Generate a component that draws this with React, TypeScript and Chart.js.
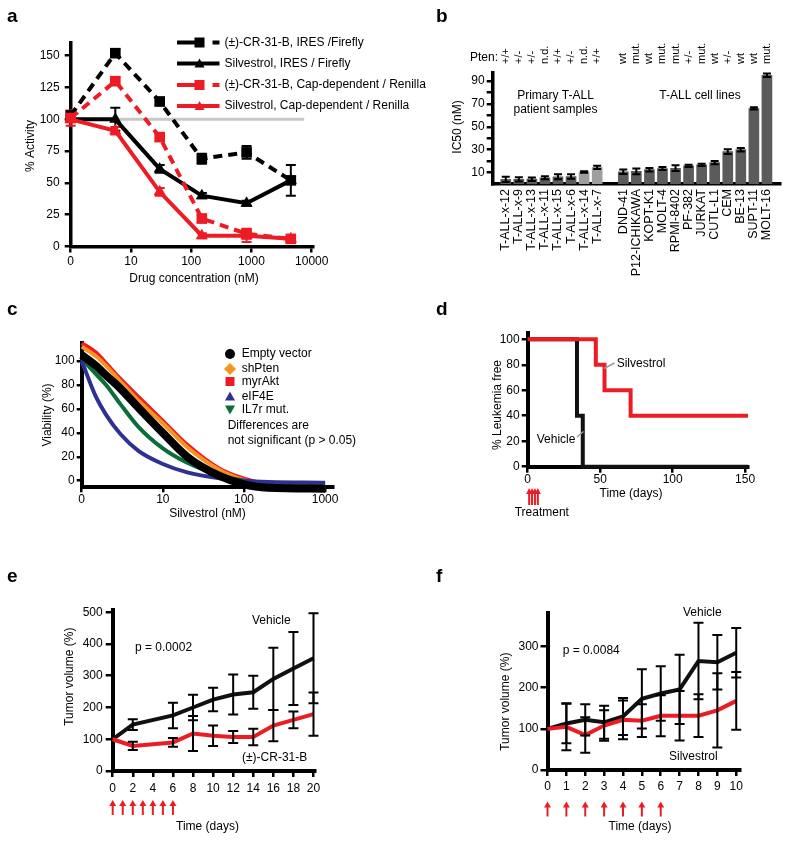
import React, { useEffect, useRef } from 'react';
import { Chart, registerables } from 'chart.js';

Chart.register(...registerables);

const FONT = '"Liberation Sans", Arial, Helvetica, sans-serif';
const PAGE_W = 800;
const PAGE_H = 844;
const RED = '#ed1c24';
const BLACK = '#000000';

/* ---------- Panel a: reporter activity ---------- */
const concA = [1, 5.5, 30, 150, 830, 4500]; // nM; 1 = untreated control, shown at the "0" tick
const crIresA = [103, 152, 114, 69, 74, 52];
const crIresErrA = [0, 3, 3, 4, 5, 12];
const silIresA = [100, 100, 61, 40, 34, 52];
const silIresErrA = [0, 9, 3, 2, 2, 0];
const crCapA = [101, 130, 86, 22, 10, 6];
const crCapErrA = [6, 3, 3, 3, 4, 1];
const silCapA = [100, 91, 43, 8.5, 8.5, 6];
const silCapErrA = [0, 3, 3, 2, 5, 1];
const refXA = [1, 7500];
const refYA = [100, 100];
const xTicksA = [1, 10, 100, 1000, 10000];
const xTickLabelsA = ['0', '10', '100', '1000', '10000'];
const yTicksA = [0, 25, 50, 75, 100, 125, 150];
const legendA = [
  '(±)-CR-31-B, IRES /Firefly',
  'Silvestrol, IRES / Firefly',
  '(±)-CR-31-B, Cap-dependent / Renilla',
  'Silvestrol, Cap-dependent / Renilla',
];

/* ---------- Panel b: IC50 ---------- */
const primaryLabelsB = ['T-ALL-x-12', 'T-ALL-x-9', 'T-ALL-x-13', 'T-ALL-x-11', 'T-ALL-x-15', 'T-ALL-x-6', 'T-ALL-x-14', 'T-ALL-x-7'];
const primaryIC50B = [4, 4, 4.2, 5.5, 6.3, 6.5, 10.5, 14.5];
const primaryErrB = [2.3, 1.8, 1.5, 1.3, 2.2, 2, 0.7, 1.5];
const primaryShadeB = ['dark', 'dark', 'dark', 'dark', 'dark', 'dark', 'light', 'light'];
const ptenPrimaryB = ['+/+', '+/-', '+/-', 'n.d.', '+/+', '+/-', 'n.d.', '+/+'];
const cellLabelsB = ['DND-41', 'P12-ICHIKAWA', 'KOPT-K1', 'MOLT-4', 'RPMI-8402', 'PF-382', 'JURKAT', 'CUTL-L1', 'CEM', 'BE-13', 'SUPT-11', 'MOLT-16'];
const cellIC50B = [10.7, 11, 12.5, 13.5, 13.8, 15.8, 16.7, 18.7, 28.3, 30, 66, 95];
const cellErrB = [2, 2.5, 1.5, 1.3, 2.5, 1, 1, 1.5, 2, 1.5, 1, 1.5];
const ptenCellB = ['wt', 'mut.', 'wt', 'mut.', 'mut.', '+/-', 'mut.', 'wt', '+/-', 'wt', 'wt', 'mut.'];
const yTicksB = [10, 20, 30, 40, 50, 60, 70, 80, 90];
const yTickLabelsB = ['10', '', '30', '', '50', '', '70', '', '90'];

/* ---------- Panel c: viability curves ---------- */
const concC = [1, 1.5, 2, 3, 5, 10, 20, 50, 100, 200, 1000];
const emptyC = [105, 96, 88, 77, 61, 40, 20, 4, -3, -5.8, -6.7];
const shPtenC = [112, 104, 96, 83, 67, 48, 28, 9, 0.5, -4, -6.4];
const myrAktC = [115, 107, 98, 85, 70, 50, 30, 10, 1.7, -3, -5.8];
const eif4eC = [100, 70, 55, 39, 25, 14, 7, 2, 0, -1, -1.7];
const il7rC = [102, 89, 80, 64, 45, 27, 15, 4.7, 0, -1.7, -3];
const xTicksC = [1, 10, 100, 1000];
const xTickLabelsC = ['0', '10', '100', '1000'];
const yTicksC = [0, 20, 40, 60, 80, 100];
const legendC = ['Empty vector', 'shPten', 'myrAkt', 'eIF4E', 'IL7r mut.'];

/* ---------- Panel d: leukemia-free survival ---------- */
const vehicleTimesD = [0, 34, 38, 152];
const vehicleSurvD = [100, 40, 0, 0];
const silvTimesD = [0, 47, 53, 71, 152];
const silvSurvD = [100, 80, 60, 40, 40];
const treatDaysD = [1, 3, 5, 7];
const xTicksD = [0, 50, 100, 150];
const yTicksD = [0, 20, 40, 60, 80, 100];

/* ---------- Panel e: tumor volume, CR-31-B ---------- */
const daysE = [0, 2, 6, 8, 10, 12, 14, 16, 18, 20];
const vehicleE = [100, 146, 175, 200, 225, 241, 248, 290, 323, 355];
const vehicleErrE = [0, 17, 40, 40, 37, 63, 52, 98, 115, 142];
const crE = [100, 79, 90, 118, 111, 107, 107, 143, 161, 179];
const crErrE = [0, 13, 14, 55, 32, 19, 26, 49, 26, 68];
const treatDaysE = [0, 1, 2, 3, 4, 5, 6];
const xTicksE = [0, 2, 4, 6, 8, 10, 12, 14, 16, 18, 20];
const yTicksE = [0, 100, 200, 300, 400, 500];

/* ---------- Panel f: tumor volume, Silvestrol ---------- */
const daysF = [0, 1, 2, 3, 4, 5, 6, 7, 8, 9, 10];
const vehicleF = [100, 113, 122, 116, 130, 173, 186, 196, 265, 262, 285];
const vehicleErrF = [0, 48, 38, 40, 45, 72, 66, 84, 93, 66, 60];
const silvF = [100, 105, 85, 108, 122, 120, 132, 132, 132, 145, 168];
const silvErrF = [0, 57, 43, 37, 47, 40, 50, 60, 52, 90, 70];
const treatDaysF = [0, 1, 2, 3, 4, 5, 6];
const xTicksF = [0, 1, 2, 3, 4, 5, 6, 7, 8, 9, 10];
const yTicksF = [0, 100, 200, 300];

/* ---------- helpers ---------- */
type Txt = { t: string; x: number; y: number; size?: number; bold?: boolean; align?: CanvasTextAlign; base?: CanvasTextBaseline; rot?: number; color?: string };

function drawTexts(ctx: CanvasRenderingContext2D, items: Txt[]) {
  items.forEach((it) => {
    ctx.save();
    ctx.font = `${it.bold ? 'bold ' : ''}${it.size ?? 12}px ${FONT}`;
    ctx.fillStyle = it.color ?? '#000';
    ctx.textAlign = it.align ?? 'left';
    ctx.textBaseline = it.base ?? 'middle';
    ctx.translate(it.x, it.y);
    if (it.rot) ctx.rotate((it.rot * Math.PI) / 180);
    ctx.fillText(it.t, 0, 0);
    ctx.restore();
  });
}

function drawMarker(ctx: CanvasRenderingContext2D, shape: string, x: number, y: number, r: number, color: string) {
  ctx.save();
  ctx.fillStyle = color;
  ctx.beginPath();
  if (shape === 'circle') ctx.arc(x, y, r, 0, Math.PI * 2);
  else if (shape === 'rect') ctx.rect(x - r, y - r, 2 * r, 2 * r);
  else if (shape === 'diamond') {
    ctx.moveTo(x, y - r); ctx.lineTo(x + r, y); ctx.lineTo(x, y + r); ctx.lineTo(x - r, y); ctx.closePath();
  } else if (shape === 'tri') {
    ctx.moveTo(x, y - r); ctx.lineTo(x + r, y + r * 0.8); ctx.lineTo(x - r, y + r * 0.8); ctx.closePath();
  } else if (shape === 'triDown') {
    ctx.moveTo(x, y + r); ctx.lineTo(x + r, y - r * 0.8); ctx.lineTo(x - r, y - r * 0.8); ctx.closePath();
  }
  ctx.fill();
  ctx.restore();
}

function drawArrow(ctx: CanvasRenderingContext2D, x: number, yTip: number, yEnd: number, color: string, half = 3.5, headH = 6) {
  ctx.save();
  ctx.fillStyle = color;
  ctx.strokeStyle = color;
  ctx.lineWidth = 2;
  ctx.beginPath();
  ctx.moveTo(x, yTip + headH - 1);
  ctx.lineTo(x, yEnd);
  ctx.stroke();
  ctx.beginPath();
  ctx.moveTo(x, yTip);
  ctx.lineTo(x + half, yTip + headH);
  ctx.lineTo(x - half, yTip + headH);
  ctx.closePath();
  ctx.fill();
  ctx.restore();
}

function errorPlugin(id: string, when: 'before' | 'after', capHalf: number, lw: number) {
  const draw = (chart: any) => {
    const ctx = chart.ctx;
    chart.data.datasets.forEach((ds: any, di: number) => {
      if (!ds.errors) return;
      const meta = chart.getDatasetMeta(di);
      const ys = chart.scales[meta.yAxisID];
      ctx.save();
      ctx.strokeStyle = ds.errorColor || '#000';
      ctx.lineWidth = lw;
      ds.errors.forEach((e: number, i: number) => {
        const raw = ds.data[i];
        const v = raw == null ? null : typeof raw === 'object' ? raw.y : raw;
        const el = meta.data[i];
        if (!e || v == null || !el) return;
        const x = el.x;
        const yt = ys.getPixelForValue(v + e);
        const yb = ys.getPixelForValue(v - e);
        ctx.beginPath();
        ctx.moveTo(x, yt); ctx.lineTo(x, yb);
        ctx.moveTo(x - capHalf, yt); ctx.lineTo(x + capHalf, yt);
        ctx.moveTo(x - capHalf, yb); ctx.lineTo(x + capHalf, yb);
        ctx.stroke();
      });
      ctx.restore();
    });
  };
  return when === 'before' ? { id, beforeDatasetsDraw: draw } : { id, afterDatasetsDraw: draw };
}

function makeAxis(o: any) {
  const ax: any = {
    type: o.type || 'linear',
    min: o.min,
    max: o.max,
    offset: false,
    afterFit: (s: any) => {
      if (o.isX) s.height = o.size;
      else s.width = o.size;
    },
    border: { display: true, color: '#000', width: o.border ?? 3.5 },
    grid: {
      display: true,
      drawOnChartArea: false,
      drawTicks: o.drawTicks ?? true,
      tickLength: o.tl ?? 6,
      tickWidth: 2.5,
      tickColor: '#000',
      color: '#000',
      lineWidth: 2.5,
    },
    ticks: {
      color: '#000',
      font: { family: FONT, size: o.font ?? 12 },
      padding: o.pad ?? 3,
      autoSkip: false,
      minRotation: o.rot ?? 0,
      maxRotation: o.rot ?? 0,
    },
    title: { display: false },
  };
  if (o.ticks) ax.afterBuildTicks = (s: any) => { s.ticks = o.ticks.map((v: number) => ({ value: v })); };
  if (o.labels) ax.ticks.callback = (_v: any, i: number) => o.labels[i];
  return ax;
}

function baseOptions(area: { L: number; T: number; R: number; B: number }, yW: number, xH: number, scales: any) {
  return {
    responsive: false,
    maintainAspectRatio: false,
    animation: false,
    events: [],
    layout: { padding: { left: area.L - yW, top: area.T, right: PAGE_W - area.R, bottom: PAGE_H - area.B - xH } },
    plugins: { legend: { display: false }, title: { display: false }, tooltip: { enabled: false } },
    scales,
  };
}

const pts = (xs: number[], ys: number[]) => ys.map((y, i) => ({ x: xs[i], y }));

/* ---------- configs ---------- */
function configA() {
  const lineDs = (ys: number[], errs: number[], color: string, dashed: boolean, shape: string, order: number) => ({
    data: pts(concA, ys),
    errors: errs,
    errorColor: color,
    borderColor: color,
    backgroundColor: color,
    pointBackgroundColor: color,
    pointBorderWidth: 0,
    borderWidth: 4,
    borderDash: dashed ? [9, 6] : [],
    pointStyle: shape,
    pointRadius: shape === 'rect' ? 7.5 : 7,
    tension: 0,
    clip: false,
    order,
  });
  return {
    type: 'line',
    data: {
      datasets: [
        lineDs(silCapA, silCapErrA, RED, false, 'triangle', 1),
        lineDs(crCapA, crCapErrA, RED, true, 'rect', 2),
        lineDs(silIresA, silIresErrA, BLACK, false, 'triangle', 3),
        lineDs(crIresA, crIresErrA, BLACK, true, 'rect', 4),
        { data: pts(refXA, refYA), borderColor: '#c8c8c8', borderWidth: 3, pointRadius: 0, order: 10 },
      ],
    },
    options: baseOptions({ L: 70.7, T: 43, R: 313, B: 246.5 }, 40, 30, {
      x: makeAxis({ type: 'logarithmic', min: 1, max: 10500, ticks: xTicksA, labels: xTickLabelsA, isX: true, size: 30, tl: 6, pad: 2 }),
      y: makeAxis({ min: 0, max: 160, ticks: yTicksA, labels: yTicksA.map(String), size: 40, tl: 6, pad: 5 }),
    }),
    plugins: [
      errorPlugin('errA', 'before', 5, 2),
      {
        id: 'extrasA',
        afterDraw(chart: any) {
          const ctx = chart.ctx;
          const rows = [42.5, 63.5, 85, 106];
          const colors = [BLACK, BLACK, RED, RED];
          const dashed = [true, false, true, false];
          rows.forEach((y, i) => {
            ctx.save();
            ctx.strokeStyle = colors[i];
            ctx.lineWidth = 4;
            ctx.beginPath();
            if (dashed[i]) {
              ctx.moveTo(177, y); ctx.lineTo(196, y);
              ctx.moveTo(212.5, y); ctx.lineTo(219.5, y);
            } else {
              ctx.moveTo(177, y); ctx.lineTo(219.5, y);
            }
            ctx.stroke();
            ctx.restore();
            drawMarker(ctx, dashed[i] ? 'rect' : 'tri', 199.5, y, 5, colors[i]);
          });
          drawTexts(ctx, [
            ...legendA.map((t, i) => ({ t, x: 224.5, y: rows[i] })),
            { t: '% Activity', x: 30.7, y: 146, rot: -90, align: 'center' as CanvasTextAlign },
            { t: 'Drug concentration (nM)', x: 194, y: 279, align: 'center' as CanvasTextAlign },
            { t: 'a', x: 7, y: 22, size: 19, bold: true, base: 'alphabetic' as CanvasTextBaseline },
          ]);
        },
      },
    ],
  };
}

function configB() {
  const DARK = '#5b5b5b';
  const LIGHT = '#9e9e9e';
  const labels = ['', ...primaryLabelsB, '', ...cellLabelsB, ''];
  const values = [null, ...primaryIC50B, null, ...cellIC50B, null];
  const errors = [0, ...primaryErrB, 0, ...cellErrB, 0];
  const colors = ['#000', ...primaryShadeB.map((s) => (s === 'dark' ? DARK : LIGHT)), '#000', ...cellIC50B.map(() => DARK), '#000'];
  const pten = ['', ...ptenPrimaryB, '', ...ptenCellB, ''];
  const xAxis = makeAxis({ type: 'category', isX: true, size: 100, drawTicks: false, pad: 5, rot: 90, border: 3.5, font: 12.5 });
  return {
    type: 'bar',
    data: {
      labels,
      datasets: [{ data: values, errors, errorColor: '#000', backgroundColor: colors, borderWidth: 0, barThickness: 10 }],
    },
    options: baseOptions({ L: 492.7, T: 73, R: 791.7, B: 184 }, 40, 100, {
      x: xAxis,
      y: makeAxis({ min: 0, max: 97, ticks: yTicksB, labels: yTickLabelsB, size: 40, tl: 6, pad: 2 }),
    }),
    plugins: [
      errorPlugin('errB', 'after', 4, 2),
      {
        id: 'extrasB',
        afterDraw(chart: any) {
          const ctx = chart.ctx;
          const xs = chart.scales.x;
          const items: Txt[] = [];
          pten.forEach((t, i) => {
            if (t) items.push({ t, x: xs.getPixelForValue(i), y: 64, rot: -90, size: 11 });
          });
          items.push(
            { t: 'Pten:', x: 498, y: 58, align: 'right' },
            { t: 'Primary T-ALL', x: 555.5, y: 95.7, align: 'center' },
            { t: 'patient samples', x: 555.5, y: 110, align: 'center' },
            { t: 'T-ALL cell lines', x: 700, y: 95.7, align: 'center' },
            { t: 'IC50 (nM)', x: 458, y: 127, rot: -90, align: 'center' },
            { t: 'b', x: 436, y: 22, size: 19, bold: true, base: 'alphabetic' },
          );
          drawTexts(ctx, items);
        },
      },
    ],
  };
}

function configC() {
  const ORANGE = '#f7941d';
  const BLUE = '#2e3192';
  const GREEN = '#0a6e3a';
  const ds = (ys: number[], color: string, width: number, order: number) => ({
    data: pts(concC, ys),
    borderColor: color,
    borderWidth: width,
    pointRadius: 0,
    cubicInterpolationMode: 'monotone',
    clip: false,
    order,
  });
  const legendColors = [BLACK, ORANGE, RED, BLUE, GREEN];
  const legendShapes = ['circle', 'diamond', 'rect', 'tri', 'triDown'];
  const legendSizes = [5, 6, 4.5, 5, 5];
  const rows = [354, 369, 381.5, 396.5, 409.5];
  return {
    type: 'line',
    data: {
      datasets: [
        ds(myrAktC, RED, 4, 5),
        ds(shPtenC, ORANGE, 4, 4),
        ds(il7rC, GREEN, 4, 3),
        ds(eif4eC, BLUE, 4, 2),
        ds(emptyC, BLACK, 8, 1),
      ],
    },
    options: baseOptions({ L: 81.7, T: 342.7, R: 333.3, B: 487.3 }, 40, 30, {
      x: makeAxis({ type: 'logarithmic', min: 1, max: 1262, ticks: xTicksC, labels: xTickLabelsC, isX: true, size: 30, tl: 5, pad: 0, border: 4 }),
      y: makeAxis({ min: -5.5, max: 115.3, ticks: yTicksC, labels: yTicksC.map(String), size: 40, tl: 5, pad: 2, border: 4 }),
    }),
    plugins: [
      {
        id: 'extrasC',
        afterDraw(chart: any) {
          const ctx = chart.ctx;
          rows.forEach((y, i) => drawMarker(ctx, legendShapes[i], 230, y, legendSizes[i], legendColors[i]));
          drawTexts(ctx, [
            ...legendC.map((t, i) => ({ t, x: 241.7, y: rows[i] })),
            { t: 'Differences are', x: 227.7, y: 426 },
            { t: 'not significant (p > 0.05)', x: 227.7, y: 441 },
            { t: 'Viability (%)', x: 48, y: 415, rot: -90, align: 'center' as CanvasTextAlign },
            { t: 'Silvestrol (nM)', x: 207.5, y: 513.3, align: 'center' as CanvasTextAlign },
            { t: 'c', x: 7, y: 315, size: 19, bold: true, base: 'alphabetic' as CanvasTextBaseline },
          ]);
        },
      },
    ],
  };
}

function configD() {
  return {
    type: 'line',
    data: {
      datasets: [
        { data: pts(silvTimesD, silvSurvD), borderColor: RED, borderWidth: 4, pointRadius: 0, stepped: true, clip: false, order: 1 },
        { data: pts(vehicleTimesD, vehicleSurvD), borderColor: '#111', borderWidth: 4, pointRadius: 0, stepped: true, clip: false, order: 2 },
      ],
    },
    options: baseOptions({ L: 527.7, T: 333.3, R: 748.3, B: 466.7 }, 40, 30, {
      x: makeAxis({ min: 0, max: 152.2, ticks: xTicksD, labels: xTicksD.map(String), isX: true, size: 30, tl: 6, pad: 0, border: 4 }),
      y: makeAxis({ min: 0, max: 104.7, ticks: yTicksD, labels: yTicksD.map(String), size: 40, tl: 6, pad: 2, border: 4 }),
    }),
    plugins: [
      {
        id: 'extrasD',
        afterDraw(chart: any) {
          const ctx = chart.ctx;
          const xs = chart.scales.x;
          treatDaysD.forEach((d) => drawArrow(ctx, xs.getPixelForValue(d), 488, 505, RED, 3, 6));
          ctx.save();
          ctx.strokeStyle = '#9a9a9a';
          ctx.lineWidth = 1.5;
          ctx.beginPath();
          ctx.moveTo(604, 368.5); ctx.lineTo(614.5, 363);
          ctx.moveTo(577, 437); ctx.lineTo(583.5, 431.5);
          ctx.stroke();
          ctx.restore();
          drawTexts(ctx, [
            { t: 'Silvestrol', x: 616.7, y: 363.3 },
            { t: 'Vehicle', x: 536.7, y: 440 },
            { t: 'Treatment', x: 541.8, y: 512.5, align: 'center' },
            { t: '% Leukemia free', x: 497.5, y: 405, rot: -90, align: 'center' },
            { t: 'Time (days)', x: 631, y: 494, align: 'center' },
            { t: 'd', x: 436, y: 315, size: 19, bold: true, base: 'alphabetic' },
          ]);
        },
      },
    ],
  };
}

function configE() {
  return {
    type: 'line',
    data: {
      datasets: [
        { data: pts(daysE, crE), errors: crErrE, borderColor: RED, borderWidth: 4, pointRadius: 0, clip: false, order: 1 },
        { data: pts(daysE, vehicleE), errors: vehicleErrE, borderColor: '#111', borderWidth: 4, pointRadius: 0, clip: false, order: 2 },
      ],
    },
    options: baseOptions({ L: 112.7, T: 610, R: 315, B: 771 }, 40, 30, {
      x: makeAxis({ min: 0, max: 20.15, ticks: xTicksE, labels: xTicksE.map(String), isX: true, size: 30, tl: 6, pad: 4, border: 4 }),
      y: makeAxis({ min: 0, max: 507, ticks: yTicksE, labels: yTicksE.map(String), size: 40, tl: 7, pad: 3, border: 4 }),
    }),
    plugins: [
      errorPlugin('errE', 'after', 5, 2),
      {
        id: 'extrasE',
        afterDraw(chart: any) {
          const ctx = chart.ctx;
          const xs = chart.scales.x;
          treatDaysE.forEach((d) => drawArrow(ctx, xs.getPixelForValue(d), 800, 815, RED, 3.5, 6));
          drawTexts(ctx, [
            { t: 'Vehicle', x: 252, y: 620.7 },
            { t: 'p = 0.0002', x: 135, y: 647.3 },
            { t: '(±)-CR-31-B', x: 242, y: 757.3 },
            { t: 'Tumor volume (%)', x: 70, y: 676.7, rot: -90, align: 'center' },
            { t: 'Time (days)', x: 207.5, y: 826.7, align: 'center' },
            { t: 'e', x: 7, y: 582, size: 19, bold: true, base: 'alphabetic' },
          ]);
        },
      },
    ],
  };
}

function configF() {
  return {
    type: 'line',
    data: {
      datasets: [
        { data: pts(daysF, silvF), errors: silvErrF, borderColor: RED, borderWidth: 4, pointRadius: 0, clip: false, order: 1 },
        { data: pts(daysF, vehicleF), errors: vehicleErrF, borderColor: '#111', borderWidth: 4, pointRadius: 0, clip: false, order: 2 },
      ],
    },
    options: baseOptions({ L: 547.5, T: 613.3, R: 740, B: 770 }, 40, 30, {
      x: makeAxis({ min: 0, max: 10.2, ticks: xTicksF, labels: xTicksF.map(String), isX: true, size: 30, tl: 6, pad: 3, border: 4 }),
      y: makeAxis({ min: 0, max: 381, ticks: yTicksF, labels: yTicksF.map(String), size: 40, tl: 7, pad: 2, border: 4 }),
    }),
    plugins: [
      errorPlugin('errF', 'after', 5, 2),
      {
        id: 'extrasF',
        afterDraw(chart: any) {
          const ctx = chart.ctx;
          const xs = chart.scales.x;
          treatDaysF.forEach((d) => drawArrow(ctx, xs.getPixelForValue(d), 801.5, 816.5, RED, 3.5, 6));
          drawTexts(ctx, [
            { t: 'Vehicle', x: 683, y: 612.7 },
            { t: 'p = 0.0084', x: 562.7, y: 650.7 },
            { t: 'Silvestrol', x: 669, y: 756.7 },
            { t: 'Tumor volume (%)', x: 506, y: 701.7, rot: -90, align: 'center' },
            { t: 'Time (days)', x: 640, y: 826.7, align: 'center' },
            { t: 'f', x: 436, y: 582, size: 19, bold: true, base: 'alphabetic' },
          ]);
        },
      },
    ],
  };
}

function ChartCanvas({ make }: { make: () => any }) {
  const ref = useRef<HTMLCanvasElement>(null);
  useEffect(() => {
    const chart = new Chart(ref.current as HTMLCanvasElement, make());
    return () => chart.destroy();
  }, []);
  return (
    <canvas
      ref={ref}
      width={PAGE_W}
      height={PAGE_H}
      style={{ position: 'absolute', left: 0, top: 0, width: PAGE_W, height: PAGE_H }}
    />
  );
}

export default function App() {
  return (
    <div style={{ position: 'absolute', left: 0, top: 0, width: PAGE_W, height: PAGE_H, background: '#fff', overflow: 'hidden' }}>
      <ChartCanvas make={configA} />
      <ChartCanvas make={configB} />
      <ChartCanvas make={configC} />
      <ChartCanvas make={configD} />
      <ChartCanvas make={configE} />
      <ChartCanvas make={configF} />
    </div>
  );
}
